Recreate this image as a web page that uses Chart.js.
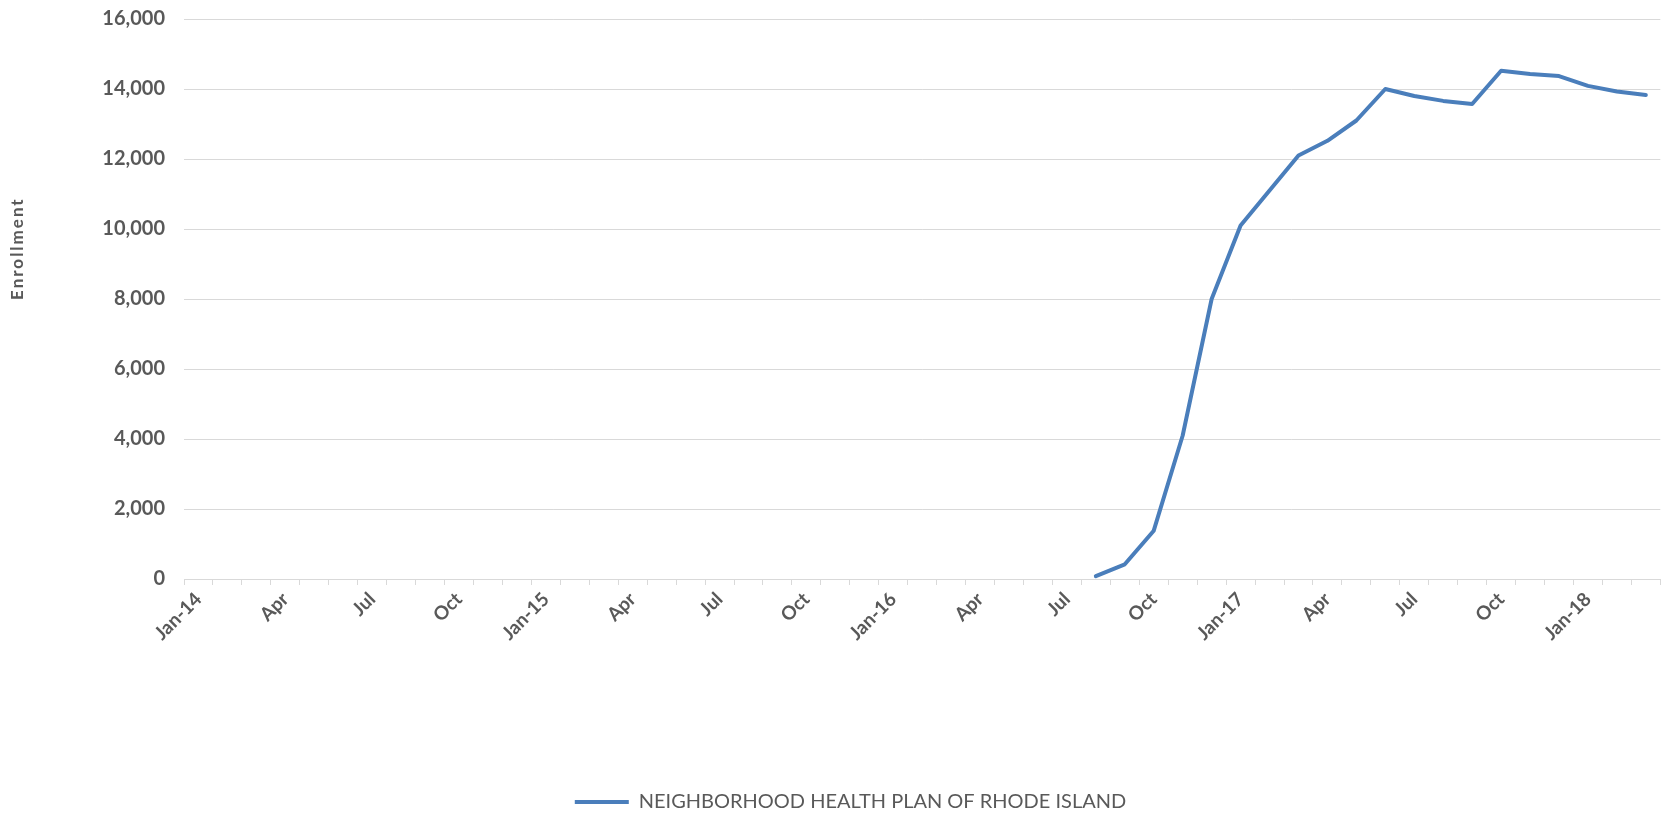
<!DOCTYPE html>
<html>
<head>
<meta charset="utf-8">
<title>Neighborhood Health Plan of Rhode Island – Enrollment</title>
<script src="https://cdn.jsdelivr.net/npm/chart.js@4/dist/chart.umd.min.js"></script>
<style>
  html, body { margin: 0; padding: 0; background: #ffffff; }
  #wrap { width: 1665px; height: 814px; position: relative; }
</style>
</head>
<body>
<div id="wrap"><canvas id="chart" width="1665" height="814"></canvas></div>
<script>
// Monthly categories, Jan 2014 – Mar 2018
const months = [
  'Jan-14','Feb-14','Mar-14','Apr-14','May-14','Jun-14','Jul-14','Aug-14','Sep-14','Oct-14','Nov-14','Dec-14',
  'Jan-15','Feb-15','Mar-15','Apr-15','May-15','Jun-15','Jul-15','Aug-15','Sep-15','Oct-15','Nov-15','Dec-15',
  'Jan-16','Feb-16','Mar-16','Apr-16','May-16','Jun-16','Jul-16','Aug-16','Sep-16','Oct-16','Nov-16','Dec-16',
  'Jan-17','Feb-17','Mar-17','Apr-17','May-17','Jun-17','Jul-17','Aug-17','Sep-17','Oct-17','Nov-17','Dec-17',
  'Jan-18','Feb-18','Mar-18'
];

// Axis label shown under each quarter's first month
const tickLabels = [
  'Jan-14','','','Apr','','','Jul','','','Oct','','',
  'Jan-15','','','Apr','','','Jul','','','Oct','','',
  'Jan-16','','','Apr','','','Jul','','','Oct','','',
  'Jan-17','','','Apr','','','Jul','','','Oct','','',
  'Jan-18','',''
];

// Enrollment per month (no enrollment before Aug 2016)
const enrollment = [
  null,null,null,null,null,null,null,null,null,null,null,null,
  null,null,null,null,null,null,null,null,null,null,null,null,
  null,null,null,null,null,null,null,80,420,1380,4100,8000,
  10100,11100,12100,12520,13100,14000,13800,13660,13570,14520,14430,14370,
  14090,13930,13830
];

const seriesName = 'NEIGHBORHOOD HEALTH PLAN OF RHODE ISLAND';
const yTitle = 'Enrollment';

const lineBlue = '#4A7EBB';
const gridGrey = '#D9D9D9';
const textGrey = '#595959';

// Rotated y-axis title placed to the left of the tick labels
const yTitlePlugin = {
  id: 'yTitle',
  afterDraw(chart) {
    const { ctx, chartArea } = chart;
    const cy = chartArea.top + (chartArea.bottom - chartArea.top) * 0.41;
    ctx.save();
    ctx.translate(18, cy);
    ctx.rotate(-Math.PI / 2);
    ctx.font = 'bold 17px Lato';
    ctx.letterSpacing = '2px';
    ctx.fillStyle = textGrey;
    ctx.textAlign = 'center';
    ctx.textBaseline = 'middle';
    ctx.fillText(yTitle, 0, 0);
    ctx.restore();
  }
};

new Chart(document.getElementById('chart'), {
  type: 'line',
  data: {
    labels: months,
    datasets: [{
      label: seriesName,
      data: enrollment,
      borderColor: lineBlue,
      backgroundColor: lineBlue,
      borderWidth: 4,
      pointRadius: 0,
      pointHoverRadius: 0,
      tension: 0,
      spanGaps: false,
      borderCapStyle: 'round',
      borderJoinStyle: 'round'
    }]
  },
  plugins: [yTitlePlugin],
  options: {
    responsive: false,
    animation: false,
    events: [],
    layout: { padding: { top: 19, right: 3, bottom: -8, left: 39 } },
    plugins: {
      tooltip: { enabled: false },
      legend: {
        position: 'bottom',
        labels: {
          color: textGrey,
          font: { family: 'Lato', size: 20 },
          boxWidth: 54,
          boxHeight: 4,
          padding: 3,
          generateLabels(chart) {
            return chart.data.datasets.map((ds, i) => ({
              text: ds.label,
              fillStyle: ds.borderColor,
              strokeStyle: ds.borderColor,
              lineWidth: 0,
              fontColor: textGrey,
              datasetIndex: i
            }));
          }
        }
      }
    },
    scales: {
      x: {
        offset: true,
        afterFit(scale) { scale.height = 210; },
        border: { display: true, color: gridGrey, width: 1 },
        grid: {
          offset: true,
          drawOnChartArea: false,
          drawTicks: true,
          tickLength: 6,
          color: gridGrey
        },
        ticks: {
          autoSkip: false,
          maxRotation: 45,
          minRotation: 45,
          padding: 3,
          color: textGrey,
          font: { family: 'Lato', size: 19, weight: 'bold' },
          callback: (v, i) => tickLabels[i]
        }
      },
      y: {
        min: 0,
        max: 16000,
        afterFit(scale) { scale.width = 145; },
        border: { display: false },
        // invisible tick marks reserve the gap between labels and plot
        grid: { color: gridGrey, drawTicks: true, tickLength: 19, tickColor: 'rgba(0,0,0,0)' },
        ticks: {
          stepSize: 2000,
          padding: 0,
          color: textGrey,
          font: { family: 'Lato', size: 20, weight: 'bold' },
          callback: v => v.toLocaleString('en-US')
        }
      }
    }
  }
});
</script>
</body>
</html>
